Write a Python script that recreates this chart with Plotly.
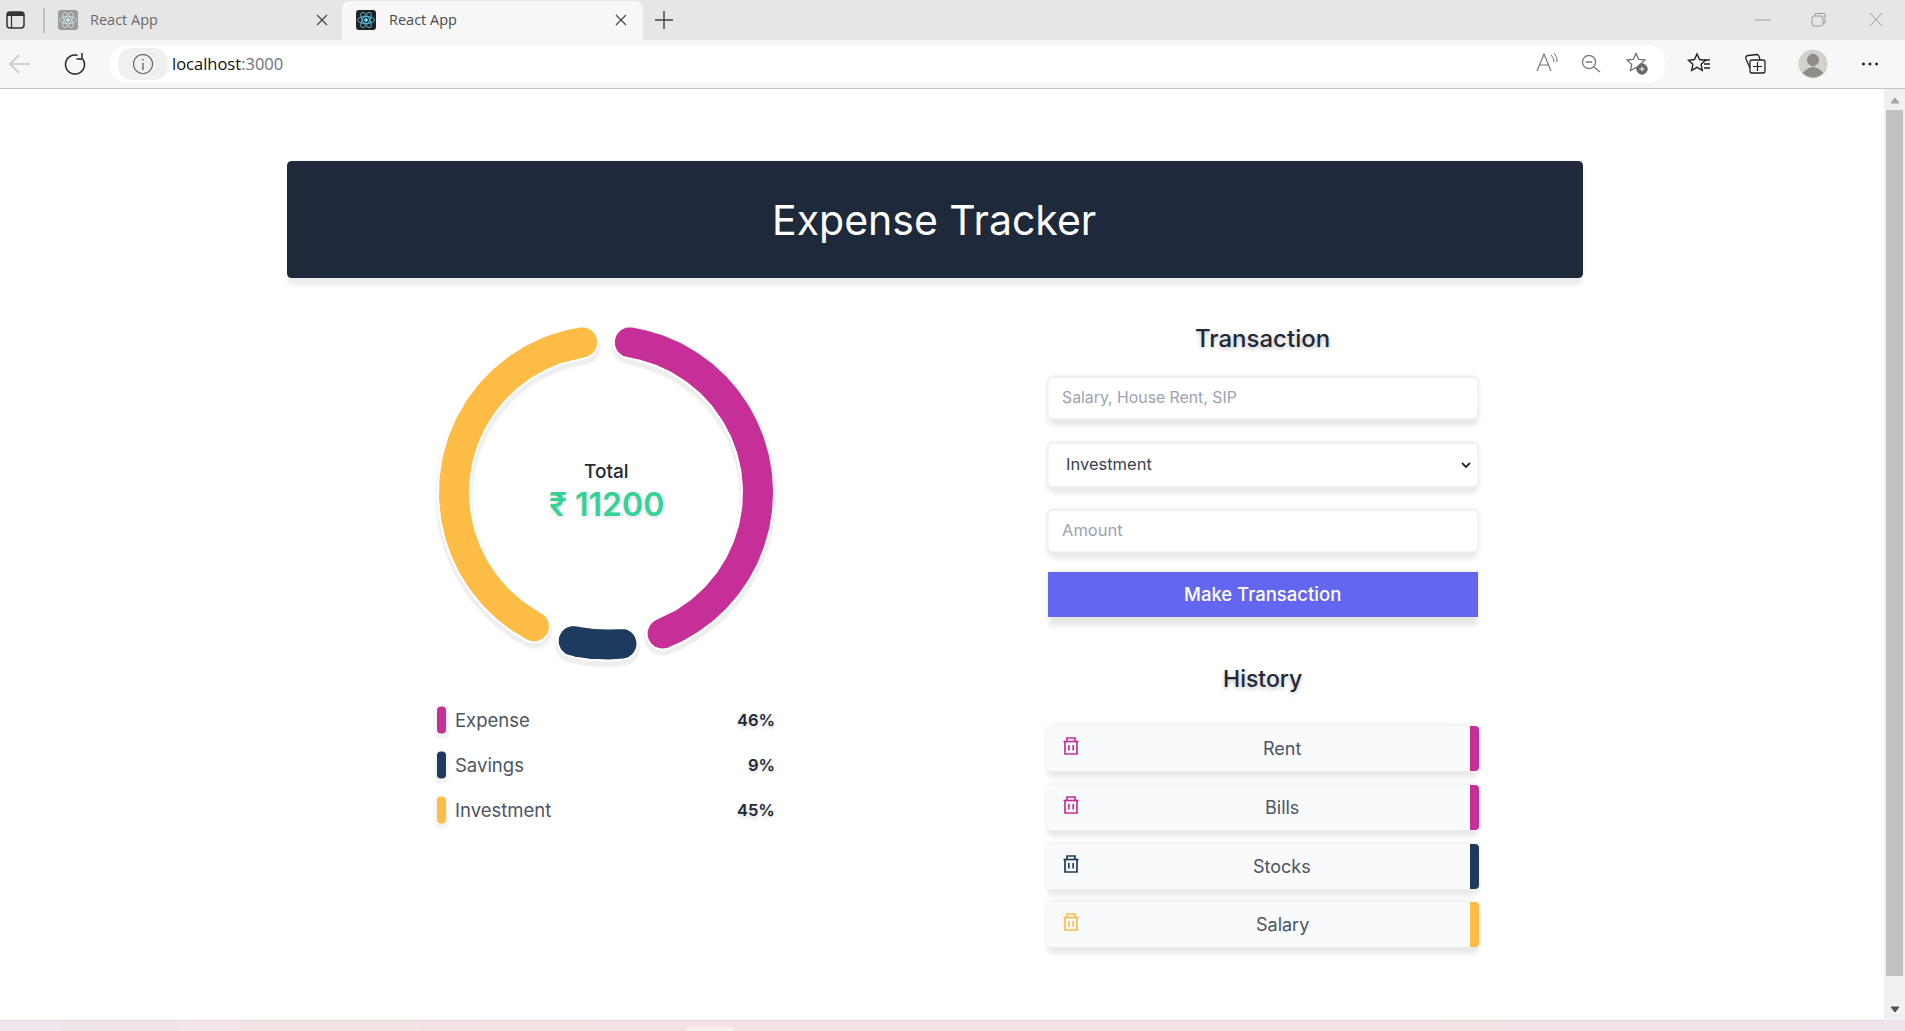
import numpy as np
import plotly.graph_objects as go

# ---- data ----
categories = ["Expense", "Savings", "Investment"]
amounts = [5200, 1000, 5000]
colors = ["#C62F97", "#1E3A5F", "#FDBC45"]
history_names = ["Rent", "Bills", "Stocks", "Salary"]
history_types = ["Expense", "Expense", "Savings", "Investment"]
arc_insets = [9, 7, 9]

FONT = "Inter"
INK = "#1f2937"
shapes, notes = [], []


def rr(x0, y0, x1, y1, r):
    if isinstance(r, (int, float)):
        r = (r, r, r, r)
    a, b, c, d = r
    return (f"M{x0+a},{y0} L{x1-b},{y0} Q{x1},{y0} {x1},{y0+b} L{x1},{y1-c} Q{x1},{y1} {x1-c},{y1} "
            f"L{x0+d},{y1} Q{x0},{y1} {x0},{y1-d} L{x0},{y0+a} Q{x0},{y0} {x0+a},{y0} Z")


def box(x0, y0, x1, y1, r=0, fill="#fff", line=None, lw=0, op=1):
    shapes.append(dict(type="path", path=rr(x0, y0, x1, y1, r), fillcolor=fill, opacity=op,
                       line=dict(color=line or "rgba(0,0,0,0)", width=lw), layer="below",
                       xref="x", yref="y"))


def shadow(x0, y0, x1, y1, r=6, blur=8, dy=4, alpha=0.012, inset=0):
    for i in range(blur, 0, -1):
        box(x0 - i + inset, y0 - i + dy, x1 + i - inset, y1 + i + dy, r + i, fill="#000", op=alpha)


def stroke(path, color, w=1.5, fill="rgba(0,0,0,0)"):
    shapes.append(dict(type="path", path=path, fillcolor=fill, line=dict(color=color, width=w),
                       layer="below", xref="x", yref="y"))


def txt(x, y, s, size, color=INK, anchor="center", weight=400, fam=FONT, shadow_css=None):
    f = dict(family=fam, size=size, color=color, weight=weight)
    if shadow_css:
        f["shadow"] = shadow_css
    notes.append(dict(x=x, y=y, xref="x", yref="y", text=s, showarrow=False, xanchor=anchor,
                      yanchor="middle", font=f, align=anchor))


def ell(cx, cy, rx, ry, rot=0):
    t = np.linspace(0, 2 * np.pi, 37)
    c, s = np.cos(np.radians(rot)), np.sin(np.radians(rot))
    xs = cx + rx * np.cos(t) * c - ry * np.sin(t) * s
    ys = cy + rx * np.cos(t) * s + ry * np.sin(t) * c
    return "M" + " L".join(f"{a:.2f},{b:.2f}" for a, b in zip(xs, ys)) + " Z"


def react_icon(x0, y0, bg, fg):
    box(x0, y0, x0 + 20, y0 + 20, 3, fill=bg)
    cx, cy = x0 + 10, y0 + 10
    for rot in (0, 60, 120):
        stroke(ell(cx, cy, 8.5, 3.4, rot), fg, 0.9)
    stroke(ell(cx, cy, 1.6, 1.6), fg, 1, fill=fg)


def trash(cx, cy, color):
    w = 1.7
    stroke(f"M{cx-7.5},{cy-4.5} L{cx+7.5},{cy-4.5}", color, w)
    stroke(f"M{cx-4},{cy-4.5} L{cx-4},{cy-8} L{cx+4},{cy-8} L{cx+4},{cy-4.5}", color, w)
    stroke(f"M{cx-6},{cy-4.5} L{cx-6},{cy+8} L{cx+6},{cy+8} L{cx+6},{cy-4.5}", color, w)
    stroke(f"M{cx-2.2},{cy-1} L{cx-2.2},{cy+4.5}", color, w)
    stroke(f"M{cx+2.2},{cy-1} L{cx+2.2},{cy+4.5}", color, w)


def hex2rgb(h):
    return np.array([int(h[i:i + 2], 16) for i in (1, 3, 5)], float)


# ---- browser chrome ----
box(0, 0, 1905, 40, 0, fill="#e6e6e6")
box(0, 40, 1905, 88, 0, fill="#f7f7f7")
box(0, 88, 1905, 89, 0, fill="#c6c6c6")
box(342, 1, 643, 41, (8, 8, 0, 0), fill="#f7f7f7")
box(110, 45, 1665, 83, 19, fill="#ffffff")
box(118, 48, 168, 80, 16, fill="#f0f0f0")

# sidebar toggle, separator
box(7, 12, 24, 28, 3, fill="rgba(0,0,0,0)", line="#333333", lw=1.5)
box(7, 12, 24, 16, (3, 3, 0, 0), fill="#333333")
stroke("M11.5,16 L11.5,28", "#333333", 1.2)
stroke("M44,8 L44,33", "#9a9a9a", 1)
react_icon(58, 10, "#9a9a9a", "#cfe3ea")
react_icon(356, 10, "#222222", "#61dafb")
txt(88, 19.5, "React App", 14.5, "#6a6a6a", "left", fam="Open Sans")
txt(387, 19.5, "React App", 14.5, "#4a4a4a", "left", fam="Open Sans")
for a in (317, 616):
    stroke(f"M{a},15 L{a+10},25 M{a+10},15 L{a},25", "#444444", 1.2)
stroke("M655,20 L673,20 M664,11 L664,29", "#444444", 1.4)

# window controls
stroke("M1755,20 L1771,20", "#9a9a9a", 1)
box(1812, 16, 1823, 26, 2, fill="rgba(0,0,0,0)", line="#9a9a9a", lw=1)
stroke("M1815,16 L1815,13.5 L1825,13.5 L1825,23 L1823,23", "#9a9a9a", 1)
stroke("M1870,13 L1882,26 M1882,13 L1870,26", "#9a9a9a", 1)

# toolbar
stroke("M30,64 L11,64 M19,55 L10,64 L19,73", "#c4c4c4", 1.5)
th = np.radians(np.linspace(-35, 285, 33))
stroke("M" + " L".join(f"{75+9.5*np.cos(t):.2f},{64.5+9.5*np.sin(t):.2f}" for t in th), "#222222", 1.5)
stroke("M82,53 L82,59 L76.5,59", "#222222", 1.5)
stroke(ell(143, 64, 9.5, 9.5), "#666666", 1.2)
stroke("M143,63 L143,70 M143,59 L143,60.5", "#666666", 1.4)
txt(170, 63, "localhost<span style='color:#6b7280'>:3000</span>", 16.5, "#111111", "left", fam="Open Sans")

stroke("M1537,71 L1544,54 L1551,71 M1540,65 L1548,65", "#777777", 1.2)
stroke("M1551,55 Q1554,58 1554,62 M1554,53 Q1558,57 1557,62", "#777777", 1)
stroke(ell(1589, 62, 6.5, 6.5), "#777777", 1.3)
stroke("M1586,62 L1592,62 M1594,67 L1600,72", "#777777", 1.3)


def star(cx, cy, r, color, w=1.4):
    pts = []
    for i in range(10):
        rad = r if i % 2 == 0 else r * 0.48
        a = np.radians(-90 + 36 * i)
        pts.append(f"{cx+rad*np.cos(a):.2f},{cy+rad*np.sin(a):.2f}")
    stroke("M" + " L".join(pts) + " Z", color, w)


star(1636, 63, 9.5, "#666666", 1.2)
stroke(ell(1642, 69, 5.2, 5.2), "#666666", 1, fill="#666666")
stroke("M1639.5,69 L1644.5,69 M1642,66.5 L1642,71.5", "#ffffff", 1)
star(1697, 63, 9, "#222222", 1.4)
stroke("M1704,60 L1710,60 M1704,64 L1710,64 M1704,68 L1710,68", "#222222", 1.3)
box(1750, 60, 1765, 73, 2, fill="rgba(0,0,0,0)", line="#222222", lw=1.3)
stroke("M1750,68 L1746,59 Q1745,56 1748,55.5 L1757,54.5 Q1759,54.5 1760,60", "#222222", 1.3)
stroke("M1757.5,62 L1757.5,71 M1753,66.5 L1762,66.5", "#222222", 1.2)
stroke(ell(1813, 64, 14, 14), "#d3d1cd", 1, fill="#d3d1cd")
stroke(ell(1813, 60, 5.5, 5.8), "#8f8c87", 1, fill="#8f8c87")
stroke("M1803,73 Q1813,62 1823,73 Q1813,81 1803,73 Z", "#8f8c87", 1, fill="#8f8c87")
for x in (1863.5, 1870, 1876.5):
    stroke(ell(x, 64, 1.1, 1.1), "#222222", 1, fill="#222222")

# scrollbar and page foot
box(1884, 89, 1905, 1020, 0, fill="#f0f0f0")
stroke("M1891,103 L1895,98 L1899,103 Z", "#a3a3a3", 1, fill="#a3a3a3")
box(1886, 110, 1903, 976, 0, fill="#c1c1c1")
stroke("M1891,1007 L1895,1012 L1899,1007 Z", "#505050", 1, fill="#505050")
foot = [(0, "#efe6f0"), (300, "#f5e4e4"), (700, "#f6e2e2"), (1400, "#f5e3e3"), (1905, "#f0e4ee")]
for x0 in range(0, 1905, 60):
    c = [np.interp(x0 + 30, [p for p, _ in foot], [hex2rgb(h)[k] for _, h in foot]) for k in range(3)]
    box(x0, 1020, min(x0 + 61, 1905), 1031, 0, fill=f"rgb({c[0]:.0f},{c[1]:.0f},{c[2]:.0f})")
box(0, 1020, 1884, 1021, 0, fill="#e6d8d8")
box(686, 1027, 734, 1032, (3, 3, 0, 0), fill="#f8eeee")

# ---- header ----
shadow(287, 161, 1583, 278, 5, blur=6, dy=4, alpha=0.01, inset=4)
box(287, 161, 1583, 278, 5, fill="#1e293b")
txt(934, 219.5, "Expense Tracker", 41, "#ffffff")

# ---- doughnut ----
total = sum(amounts)
CX, CY, R, HALF = 606, 492.5, 152, 16


def ring(start, end):
    """Outline of a round-ended ring segment; angles clockwise from 12 o'clock."""
    a = np.radians(np.linspace(start, end, 120))
    capA = np.linspace(0, np.pi, 24)
    ax, ay = R * np.sin(a[-1]), -R * np.cos(a[-1])
    bx, by = R * np.sin(a[0]), -R * np.cos(a[0])
    xs = list((R + HALF) * np.sin(a))
    ys = list(-(R + HALF) * np.cos(a))
    xs += list(ax + HALF * np.sin(a[-1] + capA))
    ys += list(ay - HALF * np.cos(a[-1] + capA))
    xs += list((R - HALF) * np.sin(a[::-1]))
    ys += list(-(R - HALF) * np.cos(a[::-1]))
    xs += list(bx + HALF * np.sin(a[0] + np.pi + capA))
    ys += list(by - HALF * np.cos(a[0] + np.pi + capA))
    xs.append(xs[0]); ys.append(ys[0])
    return CX + np.array(xs), CY + np.array(ys)


edges = np.cumsum([0] + amounts) / total * 360
traces = []
for i, name in enumerate(categories):
    x, y = ring(edges[i] + arc_insets[i], edges[i + 1] - arc_insets[i])
    for grow, alpha in ((7, 0.012), (5, 0.018), (3, 0.025)):
        traces.append(go.Scatter(x=x, y=y + 4, mode="lines", line=dict(color="#000", width=grow),
                                 fill="toself", fillcolor="#000", opacity=alpha, hoverinfo="skip",
                                 showlegend=False))
for i, name in enumerate(categories):
    x, y = ring(edges[i] + arc_insets[i], edges[i + 1] - arc_insets[i])
    traces.append(go.Scatter(x=x, y=y, mode="lines", line=dict(color="#ffffff", width=2),
                             fill="toself", fillcolor=colors[i], name=name, hoverinfo="name",
                             showlegend=False))

txt(606, 471, "Total", 19, INK, weight=500)
txt(606, 504, "₹ 11200", 32, "#31D399", weight=600, shadow_css="0 2px 4px rgba(0,0,0,.12)")

# legend
rows_y = [719.5, 764.5, 809.5]
for name, col, amt, yy in zip(categories, colors, amounts, rows_y):
    shadow(437, yy - 13, 446, yy + 14, 4, blur=4, dy=3, alpha=0.012)
    box(437, yy - 13, 446, yy + 14, 4, fill=col)
    txt(453, yy, name, 18.5, "#4b5563", "left")
    txt(777, yy, f"{round(amt / total * 100)}%", 16.5, INK, "right", weight=600,
        shadow_css="0 2px 4px rgba(0,0,0,.18)")

# ---- form ----
HEAD_SH = "0 2px 4px rgba(0,0,0,.25)"
txt(1262, 338, "Transaction", 24, INK, weight=500, shadow_css=HEAD_SH)
for y0, y1 in ((377, 419), (443, 487), (510, 552)):
    shadow(1048, y0, 1478, y1, 6, blur=7, dy=3, alpha=0.012, inset=3)
    box(1048, y0, 1478, y1, 6, fill="#ffffff", line="#e9ebef", lw=1)
txt(1060, 397, "Salary, House Rent, SIP", 15.8, "#9ca3af", "left")
txt(1064, 464, "Investment", 16.5, "#374151", "left")
stroke("M1462,463 L1466,467 L1470,463", "#1f2937", 1.8)
txt(1060, 530, "Amount", 16.5, "#9ca3af", "left")
shadow(1048, 572, 1478, 617, 0, blur=8, dy=4, alpha=0.01, inset=5)
box(1048, 572, 1478, 617, 0, fill="#6366f1")
txt(1262, 594, "Make Transaction", 18.5, "#ffffff", weight=500)

# ---- history ----
txt(1262, 678.5, "History", 23, INK, weight=500, shadow_css=HEAD_SH)
color_of = dict(zip(categories, colors))
hist_y = [726, 785, 844, 902]
for name, kind, y0 in zip(history_names, history_types, hist_y):
    y1 = y0 + 45
    col = color_of[kind]
    shadow(1047, y0, 1479, y1, 4, blur=7, dy=3, alpha=0.012, inset=4)
    box(1047, y0, 1479, y1, 4, fill="#f9fafb")
    box(1470, y0, 1479, y1, (0, 4, 4, 0), fill=col)
    trash(1071, y0 + 20, col)
    txt(1282, y0 + 22.5, name, 18, "#4b5563")

fig = go.Figure(traces)
fig.update_layout(
    width=1905, height=1031, autosize=False, margin=dict(l=0, r=0, t=0, b=0, pad=0),
    paper_bgcolor="#ffffff", plot_bgcolor="#ffffff", showlegend=False,
    xaxis=dict(range=[0, 1905], visible=False, fixedrange=True),
    yaxis=dict(range=[1031, 0], visible=False, fixedrange=True),
    shapes=shapes, annotations=notes,
)
fig.write_html("out.html", config={"displayModeBar": False},
               post_script="document.body.style.margin='0';document.body.style.overflow='hidden';")
